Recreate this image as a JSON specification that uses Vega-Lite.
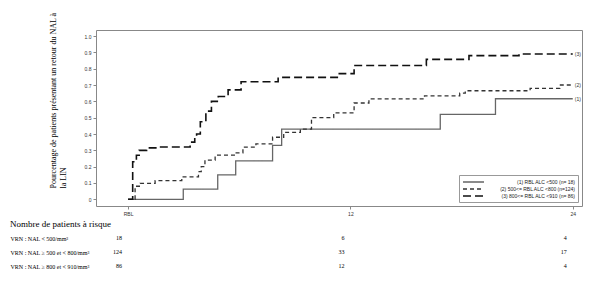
{
  "$schema": "https://vega.github.io/schema/vega-lite/v6.json",
  "autosize": {"type": "pad"},
  "padding": {"left": 10, "top": 11, "right": 0, "bottom": 0},
  "background": "white",
  "spacing": 3,
  "resolve": {"scale": {"x": "independent", "y": "independent", "color": "independent", "strokeDash": "independent"}, "legend": {"color": "independent", "strokeDash": "independent"}},
  "config": {
    "view": {"stroke": "#888"},
    "font": "Liberation Sans",
    "axis": {"labelColor": "#333", "tickColor": "#888", "grid": false, "domain": false, "labelOverlap": false},
    "title": {"font": "Liberation Serif", "fontSize": 9, "fontWeight": "normal", "color": "#000", "anchor": "start", "frame": "bounds", "offset": 2},
    "legend": {"title": null, "orient": "bottom-right", "offset": 4, "padding": 3, "strokeColor": "#999", "labelFontSize": 5, "labelColor": "#222", "symbolType": "M-1,0H6", "symbolSize": 36, "symbolStrokeWidth": 1.5, "rowPadding": -1, "labelOffset": 105, "labelAlign": "right"}
  },
  "datasets": {
    "km": [
      {"g": "(1) RBL ALC <500 (n= 18)", "t": 0, "p": 0},
      {"g": "(1) RBL ALC <500 (n= 18)", "t": 2.98, "p": 0.0625},
      {"g": "(1) RBL ALC <500 (n= 18)", "t": 4.84, "p": 0.15},
      {"g": "(1) RBL ALC <500 (n= 18)", "t": 5.81, "p": 0.235},
      {"g": "(1) RBL ALC <500 (n= 18)", "t": 7.8, "p": 0.33},
      {"g": "(1) RBL ALC <500 (n= 18)", "t": 8.29, "p": 0.43},
      {"g": "(1) RBL ALC <500 (n= 18)", "t": 16.85, "p": 0.52},
      {"g": "(1) RBL ALC <500 (n= 18)", "t": 19.83, "p": 0.616},
      {"g": "(1) RBL ALC <500 (n= 18)", "t": 24, "p": 0.616},
      {"g": "(2) 500<= RBL ALC <800 (n=124)", "t": 0, "p": 0},
      {"g": "(2) 500<= RBL ALC <800 (n=124)", "t": 0.38, "p": 0.08},
      {"g": "(2) 500<= RBL ALC <800 (n=124)", "t": 0.65, "p": 0.098},
      {"g": "(2) 500<= RBL ALC <800 (n=124)", "t": 1.46, "p": 0.114},
      {"g": "(2) 500<= RBL ALC <800 (n=124)", "t": 2.9, "p": 0.138},
      {"g": "(2) 500<= RBL ALC <800 (n=124)", "t": 3.8, "p": 0.169},
      {"g": "(2) 500<= RBL ALC <800 (n=124)", "t": 3.95, "p": 0.2},
      {"g": "(2) 500<= RBL ALC <800 (n=124)", "t": 4.15, "p": 0.24},
      {"g": "(2) 500<= RBL ALC <800 (n=124)", "t": 4.7, "p": 0.27},
      {"g": "(2) 500<= RBL ALC <800 (n=124)", "t": 5.8, "p": 0.285},
      {"g": "(2) 500<= RBL ALC <800 (n=124)", "t": 6.2, "p": 0.32},
      {"g": "(2) 500<= RBL ALC <800 (n=124)", "t": 6.9, "p": 0.34},
      {"g": "(2) 500<= RBL ALC <800 (n=124)", "t": 7.8, "p": 0.38},
      {"g": "(2) 500<= RBL ALC <800 (n=124)", "t": 8.4, "p": 0.41},
      {"g": "(2) 500<= RBL ALC <800 (n=124)", "t": 9.3, "p": 0.43},
      {"g": "(2) 500<= RBL ALC <800 (n=124)", "t": 9.9, "p": 0.5},
      {"g": "(2) 500<= RBL ALC <800 (n=124)", "t": 11.1, "p": 0.53},
      {"g": "(2) 500<= RBL ALC <800 (n=124)", "t": 12.2, "p": 0.59},
      {"g": "(2) 500<= RBL ALC <800 (n=124)", "t": 13.0, "p": 0.615},
      {"g": "(2) 500<= RBL ALC <800 (n=124)", "t": 16.0, "p": 0.634},
      {"g": "(2) 500<= RBL ALC <800 (n=124)", "t": 17.9, "p": 0.65},
      {"g": "(2) 500<= RBL ALC <800 (n=124)", "t": 18.2, "p": 0.665},
      {"g": "(2) 500<= RBL ALC <800 (n=124)", "t": 21.7, "p": 0.68},
      {"g": "(2) 500<= RBL ALC <800 (n=124)", "t": 23.3, "p": 0.7},
      {"g": "(2) 500<= RBL ALC <800 (n=124)", "t": 24, "p": 0.7},
      {"g": "(3) 800<= RBL ALC <910 (n= 86)", "t": 0, "p": 0},
      {"g": "(3) 800<= RBL ALC <910 (n= 86)", "t": 0.25, "p": 0.23},
      {"g": "(3) 800<= RBL ALC <910 (n= 86)", "t": 0.45, "p": 0.27},
      {"g": "(3) 800<= RBL ALC <910 (n= 86)", "t": 0.6, "p": 0.3},
      {"g": "(3) 800<= RBL ALC <910 (n= 86)", "t": 1.0, "p": 0.315},
      {"g": "(3) 800<= RBL ALC <910 (n= 86)", "t": 1.6, "p": 0.32},
      {"g": "(3) 800<= RBL ALC <910 (n= 86)", "t": 3.35, "p": 0.35},
      {"g": "(3) 800<= RBL ALC <910 (n= 86)", "t": 3.6, "p": 0.38},
      {"g": "(3) 800<= RBL ALC <910 (n= 86)", "t": 3.7, "p": 0.4},
      {"g": "(3) 800<= RBL ALC <910 (n= 86)", "t": 3.9, "p": 0.475},
      {"g": "(3) 800<= RBL ALC <910 (n= 86)", "t": 4.2, "p": 0.54},
      {"g": "(3) 800<= RBL ALC <910 (n= 86)", "t": 4.5, "p": 0.6},
      {"g": "(3) 800<= RBL ALC <910 (n= 86)", "t": 4.87, "p": 0.63},
      {"g": "(3) 800<= RBL ALC <910 (n= 86)", "t": 5.4, "p": 0.67},
      {"g": "(3) 800<= RBL ALC <910 (n= 86)", "t": 6.1, "p": 0.72},
      {"g": "(3) 800<= RBL ALC <910 (n= 86)", "t": 8.1, "p": 0.747},
      {"g": "(3) 800<= RBL ALC <910 (n= 86)", "t": 11.4, "p": 0.77},
      {"g": "(3) 800<= RBL ALC <910 (n= 86)", "t": 12.2, "p": 0.82},
      {"g": "(3) 800<= RBL ALC <910 (n= 86)", "t": 16.1, "p": 0.857},
      {"g": "(3) 800<= RBL ALC <910 (n= 86)", "t": 18.4, "p": 0.88},
      {"g": "(3) 800<= RBL ALC <910 (n= 86)", "t": 21.1, "p": 0.89},
      {"g": "(3) 800<= RBL ALC <910 (n= 86)", "t": 24, "p": 0.89}
    ],
    "risk": [
      {"row": "VRN : NAL < 500/mm³", "t": 0, "n": 18},
      {"row": "VRN : NAL < 500/mm³", "t": 12, "n": 6},
      {"row": "VRN : NAL < 500/mm³", "t": 24, "n": 4},
      {"row": "VRN : NAL ≥ 500 et < 800/mm³", "t": 0, "n": 124},
      {"row": "VRN : NAL ≥ 500 et < 800/mm³", "t": 12, "n": 33},
      {"row": "VRN : NAL ≥ 500 et < 800/mm³", "t": 24, "n": 17},
      {"row": "VRN : NAL ≥ 800 et < 910/mm³", "t": 0, "n": 86},
      {"row": "VRN : NAL ≥ 800 et < 910/mm³", "t": 12, "n": 12},
      {"row": "VRN : NAL ≥ 800 et < 910/mm³", "t": 24, "n": 4}
    ]
  },
  "vconcat": [
    {
      "width": 486,
      "height": 176,
      "data": {"name": "km"},
      "encoding": {
        "x": {"field": "t", "type": "quantitative",
          "scale": {"domain": [-1.73, 24.5], "nice": false, "zero": false},
          "axis": {"values": [0, 12, 24], "labelExpr": "datum.value == 0 ? 'RBL' : datum.label", "title": null, "labelFontSize": 5, "tickSize": 3, "labelPadding": 2, "labelOverlap": false}},
        "y": {"field": "p", "type": "quantitative",
          "scale": {"domain": [-0.041, 1.037], "nice": false, "zero": false},
          "axis": {"values": [0, 0.1, 0.2, 0.3, 0.4, 0.5, 0.6, 0.7, 0.8, 0.9, 1.0],
            "labelExpr": "datum.value == 0 ? '0' : format(datum.value, '.1f')",
            "labelFontSize": 5, "tickSize": 3, "labelPadding": 2, "labelOverlap": false, "labelBound": false,
            "title": ["Pourcentage de patients présentant un retour du NAL à", "la LIN"],
            "titleFont": "Liberation Serif", "titleFontSize": 8, "titleFontWeight": "normal", "titleColor": "#000",
            "titleAngle": -90, "titleAlign": "left", "titleBaseline": "middle", "titleX": -43, "titleY": 158, "titleLineHeight": 10}}
      },
      "layer": [
        {
          "mark": {"type": "line", "interpolate": "step-after"},
          "encoding": {
            "color": {"field": "g", "type": "nominal",
              "scale": {"domain": ["(1) RBL ALC <500 (n= 18)", "(2) 500<= RBL ALC <800 (n=124)", "(3) 800<= RBL ALC <910 (n= 86)"], "range": ["#666666", "#333333", "#111111"]}},
            "strokeDash": {"field": "g", "type": "nominal",
              "scale": {"domain": ["(1) RBL ALC <500 (n= 18)", "(2) 500<= RBL ALC <800 (n=124)", "(3) 800<= RBL ALC <910 (n= 86)"], "range": [[1, 0], [4, 3], [8, 4]]}},
            "strokeWidth": {"condition": {"test": "datum.g == '(3) 800<= RBL ALC <910 (n= 86)'", "value": 1.6}, "value": 1.3}
          }
        },
        {
          "transform": [{"filter": "datum.t == 24"}, {"calculate": "substring(datum.g, 0, 3)", "as": "tag"}],
          "mark": {"type": "text", "align": "left", "dx": 2, "fontSize": 5, "color": "#333"},
          "encoding": {
            "text": {"field": "tag"}
          }
        }
      ]
    },
    {
      "width": 486,
      "height": 42,
      "view": {"stroke": null},
      "title": {"text": "Nombre de patients à risque"},
      "data": {"name": "risk"},
      "mark": {"type": "text", "align": "right", "dx": -6, "font": "Liberation Serif", "fontSize": 6, "color": "#000"},
      "encoding": {
        "x": {"field": "t", "type": "quantitative", "scale": {"domain": [-1.73, 24.5], "nice": false, "zero": false}, "axis": null},
        "y": {"field": "row", "type": "nominal",
          "sort": ["VRN : NAL < 500/mm³", "VRN : NAL ≥ 500 et < 800/mm³", "VRN : NAL ≥ 800 et < 910/mm³"],
          "scale": {"paddingInner": 0, "paddingOuter": 0},
          "axis": {"title": null, "labelAlign": "left", "labelPadding": 86, "ticks": false, "domain": false, "labelFont": "Liberation Serif", "labelFontSize": 6, "labelColor": "#000", "labelLimit": 0}},
        "text": {"field": "n", "type": "quantitative"}
      }
    }
  ]
}
